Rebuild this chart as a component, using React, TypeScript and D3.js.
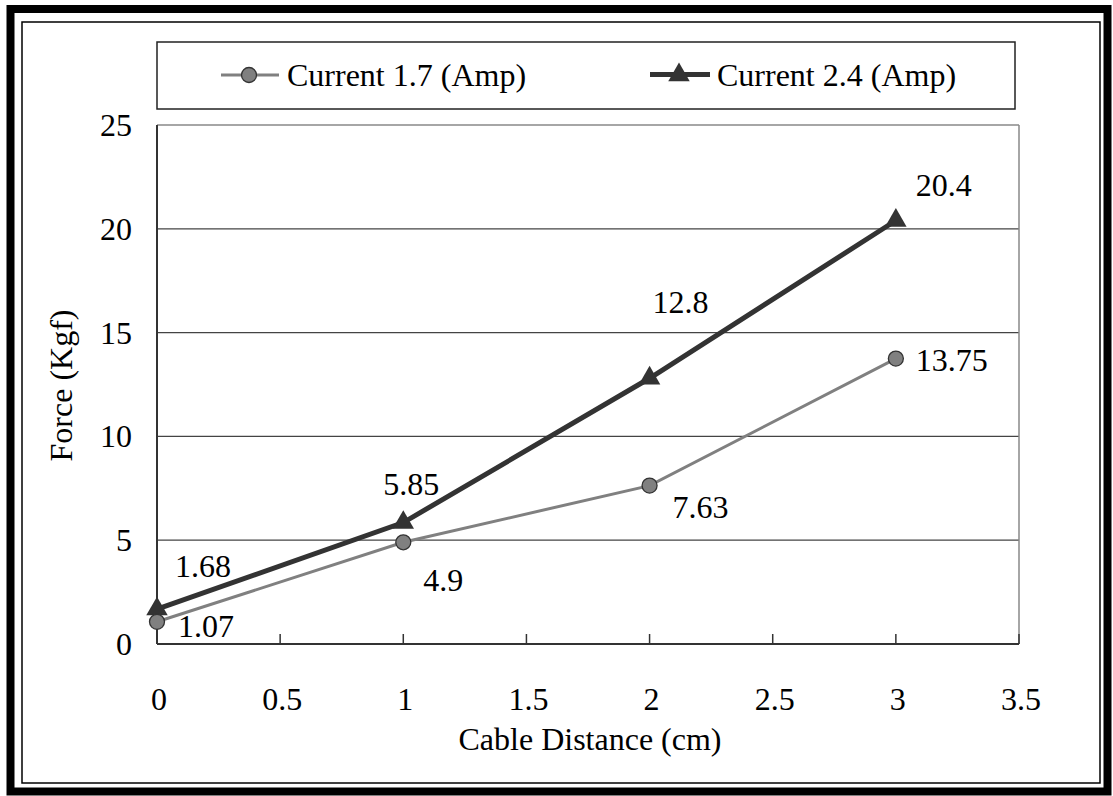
import React from "react";
import * as d3 from "d3";

// Measured pull force against cable distance for two coil currents
const distances = [0, 1, 2, 3];
const current17 = [1.07, 4.9, 7.63, 13.75];
const current24 = [1.68, 5.85, 12.8, 20.4];
const seriesNames = ["Current 1.7 (Amp)", "Current 2.4 (Amp)"];
const xTicks = [0, 0.5, 1, 1.5, 2, 2.5, 3, 3.5];
const yTicks = [0, 5, 10, 15, 20, 25];

// Value-label nudges (dx, dy) relative to each point
const labelNudge17: [number, number][] = [[21, 15], [20, 49], [23, 32], [20, 12]];
const labelNudge24: [number, number][] = [[18, -32], [-20, -28], [3, -65], [20, -24]];

const W = 1113;
const H = 796;
const plot = { left: 157, right: 1019, top: 125, bottom: 644 };
const FONT = '"Liberation Serif", Tinos, "Times New Roman", "DejaVu Serif", serif';
const FS = 32;
const txt: React.CSSProperties = { fontFamily: FONT, fontSize: FS };

export default function App() {
  const x = d3.scaleLinear().domain([0, 3.5]).range([plot.left, plot.right]);
  const y = d3.scaleLinear().domain([0, 25]).range([plot.bottom, plot.top]);

  const line = d3
    .line<[number, number]>()
    .x((d) => x(d[0]))
    .y((d) => y(d[1]));

  const pts17 = distances.map((d, i) => [d, current17[i]] as [number, number]);
  const pts24 = distances.map((d, i) => [d, current24[i]] as [number, number]);

  const tri = d3.symbol().type(d3.symbolTriangle).size(200)();

  const fmt = (v: number) => String(v);

  return (
    <svg
      width={W}
      height={H}
      style={{ position: "absolute", left: 0, top: 0, background: "#fff" }}
    >
      {/* outer heavy frame and inner thin frame */}
      <rect x={10.5} y={9} width={1097} height={782.5} fill="none" stroke="#000" strokeWidth={8} />
      <rect x={22} y={22} width={1078} height={761} fill="none" stroke="#000" strokeWidth={1.5} />

      {/* legend */}
      <rect x={157} y={42} width={858} height={67} fill="#fff" stroke="#222" strokeWidth={1.5} />
      <g>
        <line x1={221} x2={279} y1={75} y2={75} stroke="#808080" strokeWidth={3} />
        <circle cx={249} cy={75} r={7.5} fill="#808080" stroke="#333" strokeWidth={1.3} />
        <text x={287} y={86} style={txt} fill="#000">{seriesNames[0]}</text>
      </g>
      <g>
        <line x1={650} x2={710} y1={74.5} y2={74.5} stroke="#333" strokeWidth={5} />
        <path d={tri!} transform={`translate(679,75)`} fill="#333" />
        <text x={717} y={86} style={txt} fill="#000">{seriesNames[1]}</text>
      </g>

      {/* gridlines */}
      {yTicks
        .filter((t) => t > 0 && t < 25)
        .map((t) => (
          <line key={t} x1={plot.left} x2={plot.right} y1={y(t)} y2={y(t)} stroke="#444" strokeWidth={1.2} />
        ))}

      {/* plot frame: grey top and right, dark axes */}
      <line x1={plot.left} x2={plot.right} y1={plot.top} y2={plot.top} stroke="#888" strokeWidth={1.5} />
      <line x1={plot.right} x2={plot.right} y1={plot.top} y2={plot.bottom} stroke="#888" strokeWidth={1.5} />
      <line x1={plot.left} x2={plot.left} y1={plot.top} y2={plot.bottom} stroke="#333" strokeWidth={2} />
      <line x1={plot.left} x2={plot.right} y1={plot.bottom} y2={plot.bottom} stroke="#333" strokeWidth={2} />

      {/* x tick marks (inside) */}
      {xTicks
        .filter((t) => t > 0)
        .map((t) => (
          <line key={t} x1={x(t)} x2={x(t)} y1={plot.bottom} y2={plot.bottom - 10} stroke="#333" strokeWidth={1.5} />
        ))}

      {/* tick labels */}
      {yTicks.map((t) => (
        <text key={t} x={132} y={y(t) + 11} style={txt} textAnchor="end" fill="#000">
          {fmt(t)}
        </text>
      ))}
      {xTicks.map((t) => (
        <text key={t} x={x(t) + 2} y={710} style={txt} textAnchor="middle" fill="#000">
          {fmt(t)}
        </text>
      ))}

      {/* axis titles */}
      <text x={590} y={750} style={txt} textAnchor="middle" fill="#000">
        Cable Distance (cm)
      </text>
      <text
        transform={`translate(72,${(plot.top + plot.bottom) / 2 + 1}) rotate(-90)`}
        style={txt}
        textAnchor="middle"
        fill="#000"
      >
        Force (Kgf)
      </text>

      {/* series lines */}
      <path d={line(pts17)!} fill="none" stroke="#808080" strokeWidth={3} />
      <path d={line(pts24)!} fill="none" stroke="#333" strokeWidth={5} />

      {/* markers */}
      {pts24.map((p, i) => (
        <path key={i} d={tri!} transform={`translate(${x(p[0])},${y(p[1])})`} fill="#333" />
      ))}
      {pts17.map((p, i) => (
        <circle key={i} cx={x(p[0])} cy={y(p[1])} r={7.5} fill="#808080" stroke="#333" strokeWidth={1.3} />
      ))}

      {/* value labels */}
      {pts17.map((p, i) => (
        <text
          key={i}
          x={x(p[0]) + labelNudge17[i][0]}
          y={y(p[1]) + labelNudge17[i][1]}
          style={txt}
          fill="#000"
        >
          {fmt(p[1])}
        </text>
      ))}
      {pts24.map((p, i) => (
        <text
          key={i}
          x={x(p[0]) + labelNudge24[i][0]}
          y={y(p[1]) + labelNudge24[i][1]}
          style={txt}
          fill="#000"
        >
          {fmt(p[1])}
        </text>
      ))}
    </svg>
  );
}
